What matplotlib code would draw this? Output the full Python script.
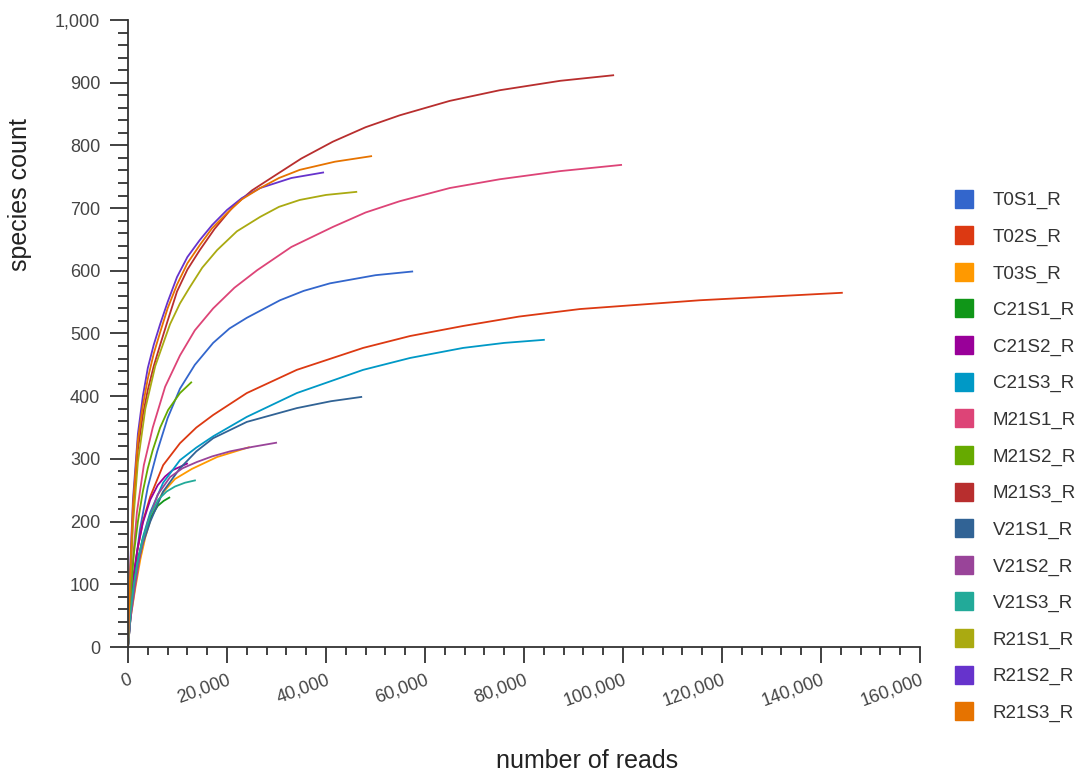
import matplotlib
matplotlib.use("Agg")
import matplotlib.pyplot as plt
from matplotlib.lines import Line2D
from matplotlib.ticker import FuncFormatter, MultipleLocator

plt.rcParams['font.family'] = ['Liberation Sans', 'DejaVu Sans']

# rarefaction curves: reads sampled vs. species observed
samples = ['T0S1_R', 'T02S_R', 'T03S_R', 'C21S1_R', 'C21S2_R', 'C21S3_R',
           'M21S1_R', 'M21S2_R', 'M21S3_R', 'V21S1_R', 'V21S2_R', 'V21S3_R',
           'R21S1_R', 'R21S2_R', 'R21S3_R']
colors = ['#3366cc', '#dc3912', '#ff9900', '#109618', '#990099', '#0099c6',
          '#dd4477', '#66aa00', '#b82e2e', '#316395', '#994499', '#22aa99',
          '#aaaa11', '#6633cc', '#e67300']

reads = {
    'T0S1_R': [0, 1200, 2400, 4000, 5900, 8000, 10500, 13500, 17200, 20500, 24000,
               30700, 35500, 40800, 50000, 57600],
    'T02S_R': [0, 800, 1800, 3000, 4500, 7100, 10500, 13800, 17200, 24000, 34100,
               47500, 57000, 67700, 79000, 91300, 115500, 144400],
    'T03S_R': [0, 500, 1500, 2500, 3500, 5000, 6900, 9500, 12900, 18000, 24600],
    'C21S1_R': [0, 500, 1200, 2000, 3000, 4500, 6000, 7200, 8500],
    'C21S2_R': [0, 500, 1200, 2000, 3000, 4500, 6000, 7500, 9000, 12100],
    'C21S3_R': [0, 800, 1800, 3000, 4500, 7100, 10500, 13800, 17200, 24000, 34100,
                47500, 57000, 67700, 76000, 84200],
    'M21S1_R': [0, 800, 1800, 3200, 5000, 7500, 10500, 13500, 17200, 21500, 26100,
                33000, 41400, 48000, 54900, 65000, 75100, 87300, 99800],
    'M21S2_R': [0, 500, 1200, 2000, 3000, 4000, 5000, 6500, 8100, 10500, 12900],
    'M21S3_R': [0, 400, 1000, 2000, 3000, 4000, 5200, 6500, 8000, 9900, 12000, 14500,
                17500, 21200, 25000, 29300, 35000, 41400, 48000, 54900, 65000, 75100,
                87300, 98200],
    'V21S1_R': [0, 800, 1800, 3000, 4500, 7100, 10500, 13800, 17200, 24000, 34100,
                41000, 47300],
    'V21S2_R': [0, 500, 1500, 2500, 4000, 6000, 8500, 11000, 13900, 17000, 20600,
                25000, 30100],
    'V21S3_R': [0, 500, 1200, 2000, 3000, 4500, 6100, 7800, 9500, 11500, 13700],
    'R21S1_R': [0, 400, 1000, 2000, 3500, 5500, 8500, 10500, 12500, 15000, 18000,
                22000, 26700, 30500, 34700, 40000, 46300],
    'R21S2_R': [0, 400, 1000, 2000, 3000, 4000, 5200, 6500, 8000, 9900, 12000, 14500,
                17000, 20000, 23000, 26700, 33000, 39600],
    'R21S3_R': [0, 400, 1000, 2000, 3000, 4000, 5200, 6500, 8000, 9900, 12000, 14500,
                17000, 20000, 23000, 26700, 30500, 34700, 41800, 49300],
}
species = {
    'T0S1_R': [0, 110, 187, 255, 312, 365, 412, 450, 485, 508, 525,
               553, 568, 580, 593, 599],
    'T02S_R': [0, 85, 150, 200, 240, 290, 325, 350, 370, 405, 442,
               477, 496, 512, 527, 539, 553, 565],
    'T03S_R': [0, 45, 95, 140, 175, 215, 245, 268, 284, 303, 319],
    'C21S1_R': [0, 55, 105, 140, 172, 205, 225, 233, 239],
    'C21S2_R': [0, 65, 120, 160, 198, 235, 258, 272, 282, 293],
    'C21S3_R': [0, 75, 130, 175, 215, 262, 298, 318, 336, 367, 405,
                442, 461, 477, 485, 490],
    'M21S1_R': [0, 120, 215, 290, 350, 415, 465, 505, 540, 573, 601,
                638, 670, 693, 711, 732, 746, 759, 769],
    'M21S2_R': [0, 80, 150, 200, 248, 285, 314, 350, 378, 405, 423],
    'M21S3_R': [0, 100, 210, 315, 370, 410, 448, 482, 520, 567, 602, 633,
                667, 702, 728, 750, 779, 806, 829, 848, 871, 888,
                903, 912],
    'V21S1_R': [0, 72, 125, 165, 200, 248, 285, 312, 333, 359, 381,
                392, 399],
    'V21S2_R': [0, 45, 100, 150, 200, 243, 271, 285, 295, 304, 312,
                319, 326],
    'V21S3_R': [0, 55, 100, 138, 172, 210, 235, 248, 256, 262, 266],
    'R21S1_R': [0, 95, 195, 295, 380, 448, 515, 548, 574, 605, 633,
                663, 686, 702, 713, 721, 726],
    'R21S2_R': [0, 120, 235, 340, 400, 445, 482, 515, 550, 590, 622, 649,
                673, 697, 716, 732, 748, 757],
    'R21S3_R': [0, 110, 225, 330, 385, 428, 468, 502, 540, 578, 612, 641,
                668, 692, 714, 732, 748, 761, 774, 783],
}

fig = plt.figure(figsize=(10.87, 7.77), dpi=100)
ax = fig.add_axes([128 / 1087, 1 - 647 / 777, 792 / 1087, 627 / 777])

for name, c in zip(samples, colors):
    ax.plot(reads[name], species[name], color=c, lw=1.3,
            solid_joinstyle='round', solid_capstyle='butt')

ax.set_xlim(0, 160000)
ax.set_ylim(0, 1000)
ax.xaxis.set_major_locator(MultipleLocator(20000))
ax.xaxis.set_minor_locator(MultipleLocator(4000))
ax.yaxis.set_major_locator(MultipleLocator(100))
ax.yaxis.set_minor_locator(MultipleLocator(20))
comma = FuncFormatter(lambda v, p: f'{int(v):,}')
ax.xaxis.set_major_formatter(comma)
ax.yaxis.set_major_formatter(comma)

for s in ['top', 'right']:
    ax.spines[s].set_visible(False)
for s in ['left', 'bottom']:
    ax.spines[s].set_color('#333333')
    ax.spines[s].set_linewidth(1.3)

ax.tick_params(axis='both', which='both', color='#333333', width=1.3,
               labelcolor='#444444', labelsize=13)
ax.tick_params(axis='x', which='major', length=11.5, pad=6)
ax.tick_params(axis='x', which='minor', length=5.8)
ax.tick_params(axis='y', which='major', length=13, pad=7)
ax.tick_params(axis='y', which='minor', length=7)
plt.setp(ax.get_xticklabels(), rotation=20, ha='right', rotation_mode='anchor')

ax.set_xlabel('number of reads', fontsize=18, color='#222222')
ax.set_ylabel('species count', fontsize=18, color='#222222')
ax.xaxis.set_label_coords((587 - 128) / 792, (647 - 749) / 627)
ax.yaxis.set_label_coords((32 - 128) / 792, (647 - 195) / 627)

handles = [Line2D([], [], ls='none', marker='s', markersize=13, color=c)
           for c in colors]
fig.legend(handles, samples, loc='center left',
           bbox_to_anchor=(955 / 1087, 1 - 457 / 777), frameon=False,
           fontsize=13.5, labelspacing=1.03, handlelength=1.0,
           handletextpad=1.0, borderpad=0, borderaxespad=0,
           labelcolor='#333333')

fig.savefig('out.png', dpi=100)
